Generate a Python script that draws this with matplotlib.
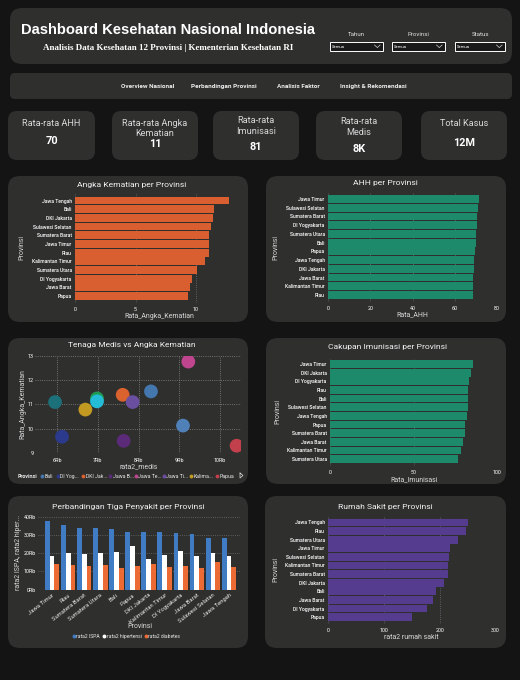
import matplotlib
matplotlib.use("Agg")
import matplotlib.pyplot as plt
from matplotlib.patches import FancyBboxPatch, Rectangle
from matplotlib.ticker import FuncFormatter

# data
kematian_prov = ["Jawa Tengah", "Bali", "DKI Jakarta", "Sulawesi Selatan", "Sumatera Barat", "Jawa Timur",
                 "Riau", "Kalimantan Timur", "Sumatera Utara", "DI Yogyakarta", "Jawa Barat", "Papua"]
kematian_val = [12.77, 11.52, 11.44, 11.27, 11.1, 11.1, 11.1, 10.78, 10.1, 9.7, 9.53, 9.36]

ahh_prov = ["Jawa Timur", "Sulawesi Selatan", "Sumatera Barat", "DI Yogyakarta", "Sumatera Utara", "Bali",
            "Papua", "Jawa Tengah", "DKI Jakarta", "Jawa Barat", "Kalimantan Timur", "Riau"]
ahh_val = [71.6, 71.1, 70.7, 70.7, 70.2, 70.2, 69.7, 69.2, 69.2, 68.8, 68.8, 68.8]

imun_prov = ["Jawa Timur", "DKI Jakarta", "DI Yogyakarta", "Riau", "Bali", "Sulawesi Selatan",
             "Jawa Tengah", "Papua", "Sumatera Barat", "Jawa Barat", "Kalimantan Timur", "Sumatera Utara"]
imun_val = [85.4, 84.2, 83.0, 82.4, 82.4, 82.4, 81.8, 80.6, 80.6, 79.4, 78.2, 76.4]

rs_prov = ["Jawa Tengah", "Riau", "Sumatera Utara", "Jawa Timur", "Sulawesi Selatan", "Kalimantan Timur",
           "Sumatera Barat", "DKI Jakarta", "Bali", "Jawa Barat", "DI Yogyakarta", "Papua"]
rs_val = [251, 247, 233, 218.6, 217, 215, 215, 208, 193, 188, 177, 150]

scatter_names = ["Bali", "DI Yogyakarta", "DKI Jakarta", "Jawa Barat", "Jawa Tengah", "Jawa Timur",
                 "Kalimantan Timur", "Papua", "Riau", "Sulawesi Selatan", "Sumatera Barat", "Sumatera Utara"]
scatter_medis = [8303, 6115, 7607, 7631, 9221, 7852, 6689, 10410, 6975, 6975, 5943, 9090]
scatter_mati = [11.54, 9.67, 11.4, 9.5, 12.77, 11.1, 10.79, 9.3, 11.25, 11.13, 11.1, 10.13]
scatter_warna = ["#4477AE", "#2B3A8C", "#D9622E", "#5B2A78", "#C0458F", "#6A4FA0",
                 "#C29A22", "#C2404C", "#1F9A55", "#25BCD8", "#1C7079", "#4F80B8"]
legend_short = ["Bali", "DI Yog...", "DKI Jak...", "Jawa B...", "Jawa Te...", "Jawa Ti...", "Kalima...", "Papua"]

penyakit_prov = ["Jawa Timur", "Riau", "Sumatera Barat", "Sumatera Utara", "Bali", "Papua", "DKI Jakarta",
                 "Kalimantan Timur", "DI Yogyakarta", "Jawa Barat", "Sulawesi Selatan", "Jawa Tengah"]
ispa = [37600, 35400, 33800, 33800, 33200, 31600, 31600, 31600, 31000, 30500, 28300, 28300]
hipertensi = [18400, 20000, 19500, 20000, 20600, 23900, 16800, 19000, 21200, 18400, 20000, 18400]
diabetes = [14000, 13500, 13000, 13500, 11900, 13000, 14000, 12400, 13000, 11900, 15200, 12400]

BG = "#141414"
PANEL = "#2F2F2E"
TXT = "#F2F2F2"
UI_FONT = "Roboto"

plt.rcParams["font.family"] = UI_FONT

fig = plt.figure(figsize=(5.2, 6.8), dpi=100, facecolor=BG)

# background layer in pixel coordinates
bg = fig.add_axes([0, 0, 1, 1], zorder=0)
bg.set_xlim(0, 520)
bg.set_ylim(680, 0)
bg.axis("off")


def card(x0, y0, x1, y1, r):
    bg.add_patch(FancyBboxPatch((x0 + r, y0 + r), x1 - x0 - 2 * r, y1 - y0 - 2 * r,
                                boxstyle=f"round,pad={r},rounding_size={r}", fc=PANEL, ec="none"))


def px_axes(x0, y0, x1, y1):
    ax = fig.add_axes([x0 / 520, 1 - y1 / 680, (x1 - x0) / 520, (y1 - y0) / 680], zorder=1)
    ax.patch.set_alpha(0)
    for s in ax.spines.values():
        s.set_visible(False)
    return ax


def label_axes(ax, xlabel, ylabel, xlab_pos, ylab_pos, size=5.0):
    ax.set_xlabel(xlabel, color="#D8D8D8", fontsize=size)
    ax.set_ylabel(ylabel, color="#D8D8D8", fontsize=size)
    ax.xaxis.set_label_coords(xlab_pos[0], xlab_pos[1], transform=bg.transData)
    ax.yaxis.set_label_coords(ylab_pos[0], ylab_pos[1], transform=bg.transData)
    ax.xaxis.label.set_verticalalignment("center")
    ax.yaxis.label.set_verticalalignment("center")


def bar_panel(box, names, values, xlim, xticks, color, title, title_pos, xlabel, xlab_pos, ylab_pos):
    ax = px_axes(*box)
    ax.barh(range(len(names)), values, height=0.9, color=color, zorder=2)
    ax.set_xlim(*xlim)
    ax.set_ylim(11.8, -0.75)
    ax.set_yticks(range(len(names)))
    ax.set_yticklabels(names, fontsize=3.6, color="white", fontweight="medium")
    ax.set_xticks(xticks)
    ax.tick_params(axis="x", length=0, pad=2.6, labelsize=3.9, labelcolor="white")
    ax.tick_params(axis="y", length=0, pad=2.6)
    ax.grid(axis="x", color="#6E7378", linestyle=":", linewidth=0.6, zorder=1)
    ax.set_axisbelow(True)
    label_axes(ax, xlabel, "Provinsi", xlab_pos, ylab_pos)
    bg.text(title_pos[0], title_pos[1], title, color=TXT, fontsize=6.1, ha="center", va="center_baseline")
    return ax


# header
card(10, 8, 512, 64, 12)
bg.text(168, 28, "Dashboard Kesehatan Nasional Indonesia", color="white", fontsize=10.6, fontweight="bold",
        family="Liberation Sans", ha="center", va="center_baseline")
bg.text(168, 46.5, "Analisis Data Kesehatan 12 Provinsi | Kementerian Kesehatan RI", color="white", fontsize=6.45,
        fontweight="bold", family="Liberation Serif", ha="center", va="center_baseline")

slicers = ["Tahun", "Provinsi", "Status"]
slicer_x0 = [329.5, 391.5, 454.5]
slicer_x1 = [382.5, 444.5, 504.5]
for name, x0, x1 in zip(slicers, slicer_x0, slicer_x1):
    bg.text((x0 + x1) / 2 + 0.5, 33.5, name, color="#E0E0E0", fontsize=4.4, ha="center", va="center_baseline")
    bg.add_patch(Rectangle((x0, 41.5), x1 - x0, 9, fc="#1A1A1A", ec="white", lw=0.7))
    bg.text(x0 + 2, 46.2, "Semua", color="white", fontsize=3.0, ha="left", va="center_baseline")
    bg.plot([x1 - 8, x1 - 5.2, x1 - 2.4], [45, 47.6, 45], color="#D0D0D0", lw=0.5)

# nav bar
card(10, 73, 512, 99, 5)
nav_text = ["Overview Nasional", "Perbandingan Provinsi", "Analisis Faktor", "Insight & Rekomendasi"]
nav_x = [148, 223.5, 298, 373.5]
for t, x in zip(nav_text, nav_x):
    bg.text(x, 86, t, color="#EDEDED", fontsize=4.6, fontweight="bold", ha="center", va="center_baseline")

# KPI cards
kpi_x0 = [8, 112, 213, 316, 421]
kpi_x1 = [95, 198, 299, 402, 507]
kpi_y0 = [111, 111, 111, 111, 111]
kpi_title = ["Rata-rata AHH", "Rata-rata Angka\nKematian", "Rata-rata\nImunisasi", "Rata-rata\nMedis", "Total Kasus"]
kpi_title_y = [123, 128.5, 126, 127, 124]
kpi_val = ["70", "11", "81", "8K", "12M"]
kpi_val_y = [140.5, 143, 145.5, 148, 141.5]
for x0, x1, y0, t, ty, v, vy in zip(kpi_x0, kpi_x1, kpi_y0, kpi_title, kpi_title_y, kpi_val, kpi_val_y):
    card(x0, y0, x1, 160, 9)
    cx = (x0 + x1) / 2
    bg.text(cx, ty, t, color="#D8D8D8", fontsize=6.6, ha="center", va="center", linespacing=1.25)
    bg.text(cx, vy, v, color="white", fontsize=7.8, fontweight="bold", ha="center", va="center_baseline")

# chart panels
card(8, 176, 248, 322, 12)
card(266, 176, 506, 322, 12)
card(8, 338, 248, 484, 12)
card(266, 338, 506, 484, 12)
card(8, 496, 248, 648, 12)
card(265, 496, 506, 648, 12)

bar_panel((75.3, 194, 237, 303), kematian_prov, kematian_val, (0, 13.42), [0, 5, 10], "#D95F30",
          "Angka Kematian per Provinsi", (132, 184), "Rata_Angka_Kematian", (159, 316.5), (22, 248))
bar_panel((328.3, 192.5, 496.7, 302), ahh_prov, ahh_val, (0, 80), [0, 20, 40, 60, 80], "#1D8A6B",
          "AHH per Provinsi", (385.5, 183), "Rata_AHH", (412.5, 314.5), (275.5, 247))
bar_panel((330.3, 357.5, 497.3, 466), imun_prov, imun_val, (0, 100), [0, 50, 100], "#1D8A6B",
          "Cakupan Imunisasi per Provinsi", (387.5, 347), "Rata_Imunisasi", (414, 479.5), (278, 411))
bar_panel((328.3, 516, 495.3, 624), rs_prov, rs_val, (0, 300), [0, 100, 200, 300], "#553C8F",
          "Rumah Sakit per Provinsi", (385.5, 506), "rata2 rumah sakit", (411.5, 637.5), (275.5, 570))

# scatter
sc = px_axes(35, 356, 240.7, 453)
sc.scatter(scatter_medis, scatter_mati, s=98, c=scatter_warna, linewidths=0, zorder=3)
sc.set_xlim(5450, 10510)
sc.set_ylim(9, 13)
sc.set_xticks([6000, 7000, 8000, 9000, 10000])
sc.set_yticks([9, 10, 11, 12, 13])
sc.xaxis.set_major_formatter(FuncFormatter(lambda v, p: f"{int(v / 1000)}Rb"))
sc.yaxis.set_major_formatter(FuncFormatter(lambda v, p: f"{int(v)}"))
sc.tick_params(axis="x", length=0, labelsize=3.9, labelcolor="white", pad=3.5)
sc.tick_params(axis="y", length=0, labelsize=3.9, labelcolor="white", pad=0.8)
sc.grid(color="#8A8A8A", linestyle=":", linewidth=0.6, zorder=1)
sc.set_axisbelow(True)
label_axes(sc, "rata2_medis", "Rata_Angka_Kematian", (138.5, 466.5), (22.5, 404.5))
bg.text(132, 345, "Tenaga Medis vs Angka Kematian", color=TXT, fontsize=6.0, ha="center", va="center_baseline")

bg.text(18, 476, "Provinsi", color="#E8E8E8", fontsize=3.9, fontweight="bold", va="center_baseline")
legend_dot_x = [42.3, 57.7, 83, 110.3, 136, 164, 190.7, 216.7]
for name, x, col in zip(legend_short, legend_dot_x, scatter_warna[:8]):
    bg.plot([x], [475.5], "o", ms=2.8, color=col, mec="none")
    bg.text(x + 2.5, 476, name, color="#E8E8E8", fontsize=3.7, va="center_baseline")
bg.plot([240, 243, 240, 240], [473, 475.5, 478, 473], color="#E0E0E0", lw=0.5)

# grouped bars
gb = px_axes(38, 516.7, 240, 589.7)
pos = list(range(len(penyakit_prov)))
w = 0.3
gb.bar([p - w for p in pos], ispa, width=w, color="#3F7CC4", zorder=2, label="rata2 ISPA")
gb.bar(pos, hipertensi, width=w, color="white", zorder=2, label="rata2 hipertensi")
gb.bar([p + w for p in pos], diabetes, width=w, color="#EC6B35", zorder=2, label="rata2 diabetes")
gb.set_xlim(-0.87, 11.68)
gb.set_ylim(0, 40000)
gb.set_yticks([0, 10000, 20000, 30000, 40000])
gb.yaxis.set_major_formatter(FuncFormatter(lambda v, p: f"{int(v / 1000)}Rb"))
gb.set_xticks(pos)
gb.set_xticklabels(penyakit_prov, rotation=38, ha="right", rotation_mode="anchor", fontsize=4.2, color="#E8E8E8")
gb.tick_params(axis="x", length=0, pad=2)
gb.tick_params(axis="y", length=0, pad=1.5, labelsize=3.9, labelcolor="white")
gb.grid(axis="y", color="#707070", linestyle=":", linewidth=0.6, zorder=1)
gb.set_axisbelow(True)
label_axes(gb, "Provinsi", "rata2 ISPA, rata2 hiper...", (140, 626.5), (19, 552))
bg.text(128, 506, "Perbandingan Tiga Penyakit per Provinsi", color=TXT, fontsize=6.1, ha="center", va="center_baseline")

leg_x = [74, 104.3, 146]
leg_txt = ["rata2 ISPA", "rata2 hipertensi", "rata2 diabetes"]
leg_col = ["#3F7CC4", "white", "#EC6B35"]
for x, t, c in zip(leg_x, leg_txt, leg_col):
    bg.plot([x], [636], "o", ms=2.8, color=c, mec="none")
    bg.text(x + 2.5, 636.3, t, color="#E8E8E8", fontsize=3.6, va="center_baseline")

plt.savefig("out.png", dpi=100, facecolor=BG)
